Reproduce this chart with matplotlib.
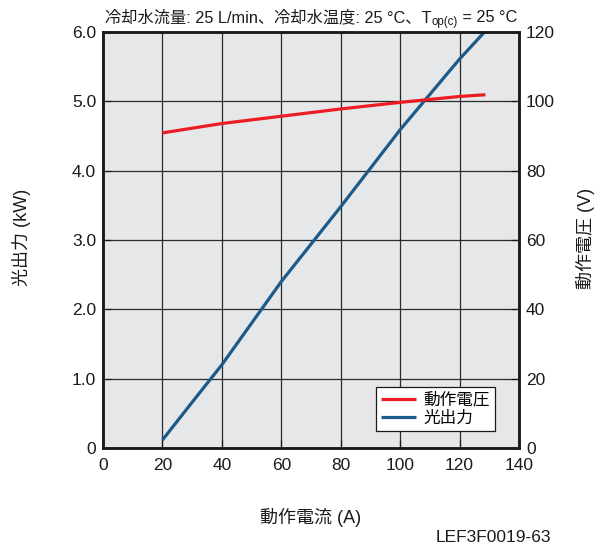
import matplotlib
matplotlib.use("Agg")
import matplotlib.pyplot as plt

plt.rcParams['font.family'] = ['Liberation Sans', 'Noto Sans CJK JP', 'DejaVu Sans']

# Data
current_power = [20, 30, 40, 60, 80, 100, 120, 128.4]
power_kw = [0.115, 0.66, 1.20, 2.40, 3.48, 4.59, 5.61, 6.0]
current_volt = [20, 40, 60, 80, 100, 120, 128.7]
voltage_v = [90.9, 93.6, 95.7, 97.8, 99.7, 101.4, 101.9]

x_ticks = [0, 20, 40, 60, 80, 100, 120, 140]
y1_ticks = [0, 1.0, 2.0, 3.0, 4.0, 5.0, 6.0]
y1_labels = ["0", "1.0", "2.0", "3.0", "4.0", "5.0", "6.0"]
y2_ticks = [0, 20, 40, 60, 80, 100, 120]

red = '#ec1c24'
blue = '#1c5a8a'
txt = '#1a1a1a'

fig = plt.figure(figsize=(6.03, 5.5), dpi=100)
ax = fig.add_axes([103/603, 1-448/550, 416/603, 416/550])
ax.set_facecolor('#e6e7e9')
ax2 = ax.twinx()

ax.set_xlim(0, 140)
ax.set_ylim(0, 6.0)
ax2.set_ylim(0, 120)

ax.set_xticks(x_ticks)
ax.set_yticks(y1_ticks)
ax.set_yticklabels(y1_labels)
ax2.set_yticks(y2_ticks)

ax.grid(True, color='#2a2a2a', linewidth=0.9)
ax.set_axisbelow(True)

l1, = ax.plot(current_power, power_kw, color=blue, linewidth=2.3, label='光出力', solid_capstyle='butt')
l2, = ax2.plot(current_volt, voltage_v, color=red, linewidth=2.3, label='動作電圧', solid_capstyle='butt')

for a in (ax, ax2):
    for s in a.spines.values():
        s.set_linewidth(1.8)
        s.set_color(txt)
    a.tick_params(direction='in', length=6, width=0.9, labelsize=12.5, colors=txt, pad=5)
ax.tick_params(axis='x', pad=7)

fig.text(22/603, 1-237/550, '光出力 (kW)', rotation=90, ha='center', va='center', fontsize=13, color=txt)
fig.text(585/603, 1-238/550, '動作電圧 (V)', rotation=90, ha='center', va='center', fontsize=13, color=txt)
fig.text(311/603, 1-517/550, '動作電流 (A)', ha='center', va='center', fontsize=13, color=txt)

leg = ax2.legend([l2, l1], ['動作電圧', '光出力'], loc='lower right',
                 bbox_to_anchor=(0.942, 0.041), borderaxespad=0,
                 fontsize=12, frameon=True, fancybox=False,
                 handlelength=2.1, handletextpad=0.45, borderpad=0.3,
                 labelspacing=0.2)
leg.get_frame().set_edgecolor(txt)
leg.get_frame().set_linewidth(0.9)
leg.get_frame().set_facecolor('white')
leg.get_frame().set_alpha(1)

# Title with subscript, built from chained text pieces
base_y = 1 - 22.5/550
t1 = fig.text(105/603, base_y, '冷却水流量: 25 L/min、冷却水温度: 25 °C、T',
              ha='left', va='baseline', fontsize=11.7, color=txt)
t2 = fig.text(0, 0, 'op(c)', fontsize=8.3, color=txt, ha='left', va='baseline')
t3 = fig.text(0, 0, ' = 25 °C', fontsize=11.7, color=txt, ha='left', va='baseline')
fig.canvas.draw()
r = fig.canvas.get_renderer()
bb1 = t1.get_window_extent(r)
t2.set_position((bb1.x1 / fig.bbox.width, base_y - 3/550))
fig.canvas.draw()
bb2 = t2.get_window_extent(r)
t3.set_position((bb2.x1 / fig.bbox.width, base_y))

fig.text(493/603, 1-537/550, 'LEF3F0019-63', ha='center', va='center', fontsize=12.5, color=txt)

fig.savefig('out.png', dpi=100)
